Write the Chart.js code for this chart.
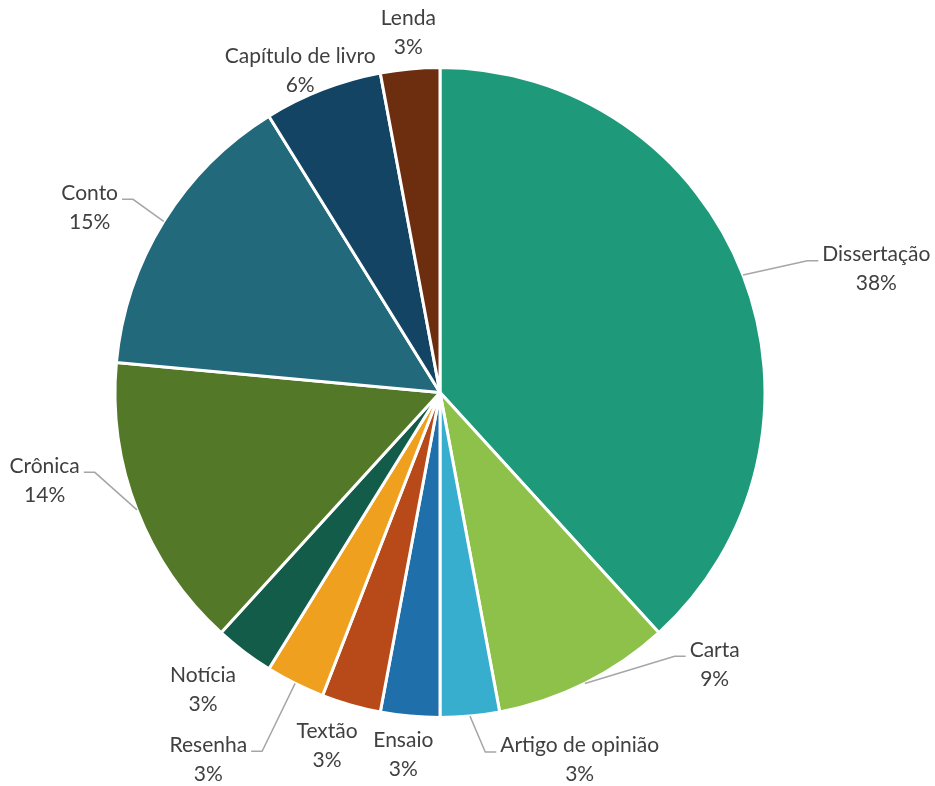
<!DOCTYPE html>
<html>
<head>
<meta charset="utf-8">
<script src="https://cdn.jsdelivr.net/npm/chart.js@4.4.1/dist/chart.umd.min.js"></script>
<style>
  body { margin: 0; background: #ffffff; }
  #myChart { display: block; }
</style>
</head>
<body>
<canvas id="myChart" width="935" height="786"></canvas>
<script>
const categorias = ['Dissertação', 'Carta', 'Artigo de opinião', 'Ensaio', 'Textão', 'Resenha', 'Notícia', 'Crônica', 'Conto', 'Capítulo de livro', 'Lenda'];
const contagens = [13, 3, 1, 1, 1, 1, 1, 5, 5, 2, 1];
const percentuais = ['38%', '9%', '3%', '3%', '3%', '3%', '3%', '14%', '15%', '6%', '3%'];

const cores = ['#1e9a7b', '#8dc14a', '#38aecf', '#1f6fab', '#b84a19', '#f0a01f', '#125c49', '#537827', '#22697c', '#134463', '#6d2e10'];

// deslocamento dos rotulos (px) a partir do ponto base fora da fatia, e se tem linha guia
const ajusteRotulo = [[96, 8], [112, -55], [106, 4], [-3, -1], [-13, 2], [-69, 40], [-17, 6], [-55, -44], [-40, 7], [-8, 19], [2, 4]];
const temGuia = [true, true, true, false, false, true, false, true, true, false, false];

const rotulosExternos = {
    id: 'rotulosExternos',
    afterDatasetsDraw(chart) {
        const ctx = chart.ctx;
        const meta = chart.getDatasetMeta(0);
        ctx.save();
        ctx.font = '21px Lato';
        ctx.textAlign = 'center';
        ctx.textBaseline = 'middle';
        meta.data.forEach((arc, i) => {
            const mid = (arc.startAngle + arc.endAngle) / 2;
            const r = arc.outerRadius;
            const dx = Math.cos(mid), dy = Math.sin(mid);
            const bx = arc.x + dx * (r + 40) + ajusteRotulo[i][0];
            const by = arc.y + dy * (r + 40) + ajusteRotulo[i][1];
            const w = Math.max(ctx.measureText(categorias[i]).width, ctx.measureText(percentuais[i]).width);

            if (temGuia[i]) {
                const ex = arc.x + dx * r;
                const ey = arc.y + dy * r;
                const lado = bx > ex ? -1 : 1;
                const ly = by - 8;
                const lx = bx + lado * (w / 2 + 4);
                const cx = lx + lado * 11;
                ctx.strokeStyle = '#a6a6a6';
                ctx.lineWidth = 1.5;
                ctx.beginPath();
                ctx.moveTo(ex, ey);
                ctx.lineTo(cx, ly);
                ctx.lineTo(lx, ly);
                ctx.stroke();
            }

            ctx.fillStyle = '#404040';
            ctx.fillText(categorias[i], bx, by - 14.5);
            ctx.fillText(percentuais[i], bx, by + 14.5);
        });
        ctx.restore();
    }
};

const ctx = document.getElementById('myChart').getContext('2d');
const myChart = new Chart(ctx, {
    type: 'pie',
    data: {
        labels: categorias,
        datasets: [{
            data: contagens,
            backgroundColor: cores,
            borderColor: '#ffffff',
            borderWidth: 3
        }]
    },
    options: {
        responsive: false,
        animation: false,
        layout: {
            padding: { left: 113, right: 168, top: 66, bottom: 67 }
        },
        plugins: {
            legend: { display: false },
            tooltip: { enabled: false }
        }
    },
    plugins: [rotulosExternos]
});
</script>
</body>
</html>
